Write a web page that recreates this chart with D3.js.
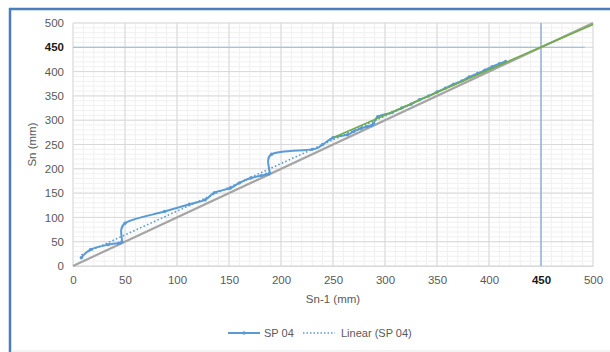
<!DOCTYPE html>
<html><head><meta charset="utf-8">
<script src="https://cdn.jsdelivr.net/npm/d3@7"></script>
<style>
html,body{margin:0;padding:0;background:#fff;}
svg{display:block;font-family:"Liberation Sans",Arial,sans-serif;}
</style></head>
<body><svg id="c" width="610" height="352"></svg>
<script>
// Settlement sequence (Sn-1 -> Sn)
const seriesName = "SP 04";
const snPrev = [8, 17, 34, 44, 47, 50, 88, 112, 127, 136, 151, 160, 171, 181, 186, 189, 191, 230, 240, 250, 264, 270, 277, 283, 287, 289, 293, 307, 316, 325, 333, 342, 350, 358, 366, 374, 381, 389, 396, 403, 410, 416];
const sn     = [17, 34, 44, 47, 50, 88, 112, 127, 136, 151, 160, 171, 181, 186, 189, 191, 230, 240, 250, 264, 270, 277, 283, 287, 289, 293, 307, 316, 325, 333, 342, 350, 358, 366, 374, 381, 389, 396, 403, 410, 416, 421];
// 45-degree reference line
const refX = [0, 500];
const refY = [0, 500];
// Fitted (Asaoka) line
const fitX = [250, 500];
const fitY = [264, 497];
// Final settlement markers
const finalValue = 450;
const hLineX = [0, 492];
const vLineY = [0, 500];
// Axes
const xTicks = [0, 50, 100, 150, 200, 250, 300, 350, 400, 450, 500];
const yTicks = [0, 50, 100, 150, 200, 250, 300, 350, 400, 450, 500];
const xTitle = "Sn-1 (mm)";
const yTitle = "Sn (mm)";
const trendName = "Linear (SP 04)";

const svg = d3.select("#c");
const L = 73, R = 593, T = 23, B = 266;
const x = d3.scaleLinear().domain([0, 500]).range([L, R]);
const y = d3.scaleLinear().domain([0, 500]).range([B, T]);

// frame
svg.append("rect").attr("x",0).attr("y",0).attr("width",610).attr("height",352).attr("fill","#fff");
svg.append("line").attr("x1",10).attr("x2",10).attr("y1",8).attr("y2",352).attr("stroke","#4A7EBB").attr("stroke-width",2.5);
svg.append("line").attr("x1",9).attr("x2",610).attr("y1",9).attr("y2",9).attr("stroke","#4A7EBB").attr("stroke-width",2.5);
svg.append("line").attr("x1",11).attr("x2",610).attr("y1",351).attr("y2",351).attr("stroke","#E6E6E6").attr("stroke-width",1);

// grid
const minor = d3.range(0, 501, 10);
const g = svg.append("g");
g.selectAll(".mx").data(minor).join("line")
  .attr("x1",d=>x(d)).attr("x2",d=>x(d)).attr("y1",T).attr("y2",B)
  .attr("stroke","#F0F0F0").attr("stroke-width",1);
g.selectAll(".my").data(minor).join("line")
  .attr("y1",d=>y(d)).attr("y2",d=>y(d)).attr("x1",L).attr("x2",R)
  .attr("stroke","#F0F0F0").attr("stroke-width",1);
g.selectAll(".Mx").data(xTicks).join("line")
  .attr("x1",d=>x(d)).attr("x2",d=>x(d)).attr("y1",T).attr("y2",B)
  .attr("stroke","#D9D9D9").attr("stroke-width",1);
g.selectAll(".My").data(yTicks).join("line")
  .attr("y1",d=>y(d)).attr("y2",d=>y(d)).attr("x1",L).attr("x2",R)
  .attr("stroke","#D9D9D9").attr("stroke-width",1);

// axes via d3
const xAxis = d3.axisBottom(x).tickValues(xTicks).tickSize(0).tickPadding(10);
const yAxis = d3.axisLeft(y).tickValues(yTicks).tickSize(0).tickPadding(9);
const gx = svg.append("g").attr("transform",`translate(0,${B})`).call(xAxis);
const gy = svg.append("g").attr("transform",`translate(${L},0)`).call(yAxis);
[gx, gy].forEach(a => {
  a.select(".domain").attr("stroke","#D9D9D9");
  a.selectAll("text").attr("fill",d=>d===finalValue?"#1a1a1a":"#595959")
    .attr("font-weight",d=>d===finalValue?"bold":"normal")
    .style("font-size","11.5px").style("font-family","\"Liberation Sans\",Arial,sans-serif");
});
gy.select(".domain").remove();

// final-value lines
svg.append("line").attr("x1",x(hLineX[0])).attr("x2",x(hLineX[1])).attr("y1",y(finalValue)).attr("y2",y(finalValue))
  .attr("stroke","#9DC3E6").attr("stroke-width",1.2);
svg.append("line").attr("x1",x(finalValue)).attr("x2",x(finalValue)).attr("y1",y(vLineY[0])).attr("y2",y(vLineY[1]))
  .attr("stroke","#7FA7DB").attr("stroke-width",1.2);

// reference 45 deg line
const lineGen = d3.line().x(d=>x(d[0])).y(d=>y(d[1]));
svg.append("path").datum(d3.zip(refX, refY)).attr("d", lineGen)
  .attr("fill","none").attr("stroke","#A5A5A5").attr("stroke-width",2.2);

// trendline (least squares from data)
const n = snPrev.length;
const mx = d3.mean(snPrev), my = d3.mean(sn);
let sxy = 0, sxx = 0;
for (let i=0;i<n;i++){ sxy += (snPrev[i]-mx)*(sn[i]-my); sxx += (snPrev[i]-mx)**2; }
const slope = sxy/sxx, icpt = my - slope*mx;
const tx = d3.extent(snPrev);
svg.append("path").datum(tx.map(v=>[v, icpt+slope*v])).attr("d", lineGen)
  .attr("fill","none").attr("stroke","#5B9BD5").attr("stroke-width",1.6).attr("stroke-dasharray","1.6,2.2");

// series
const pts = d3.zip(snPrev, sn);
svg.append("path").datum(pts).attr("d", d3.line().x(d=>x(d[0])).y(d=>y(d[1])).curve(d3.curveCatmullRom.alpha(0)))
  .attr("fill","none").attr("stroke","#5B9BD5").attr("stroke-width",2);
svg.append("g").selectAll("circle").data(pts).join("circle")
  .attr("cx",d=>x(d[0])).attr("cy",d=>y(d[1])).attr("r",1.7).attr("fill","#5B9BD5");

// fitted line
svg.append("path").datum(d3.zip(fitX, fitY)).attr("d", lineGen)
  .attr("fill","none").attr("stroke","#70AD47").attr("stroke-width",1.6);

// titles
svg.append("text").attr("x",(L+R)/2).attr("y",303).attr("text-anchor","middle")
  .attr("fill","#595959").style("font-size","11.5px").text(xTitle);
svg.append("text").attr("transform",`translate(36,${(T+B)/2}) rotate(-90)`).attr("text-anchor","middle")
  .attr("fill","#595959").style("font-size","11.5px").text(yTitle);

// legend
const ly = 333;
svg.append("line").attr("x1",228).attr("x2",260).attr("y1",ly).attr("y2",ly).attr("stroke","#5B9BD5").attr("stroke-width",2);
svg.append("circle").attr("cx",244).attr("cy",ly).attr("r",1.7).attr("fill","#5B9BD5");
svg.append("text").attr("x",264).attr("y",ly+4).attr("fill","#595959").style("font-size","11px").text(seriesName);
svg.append("line").attr("x1",303).attr("x2",335).attr("y1",ly).attr("y2",ly).attr("stroke","#5B9BD5").attr("stroke-width",1.4).attr("stroke-dasharray","1.5,2");
svg.append("text").attr("x",341).attr("y",ly+4).attr("fill","#595959").style("font-size","11px").text(trendName);
</script></body></html>
